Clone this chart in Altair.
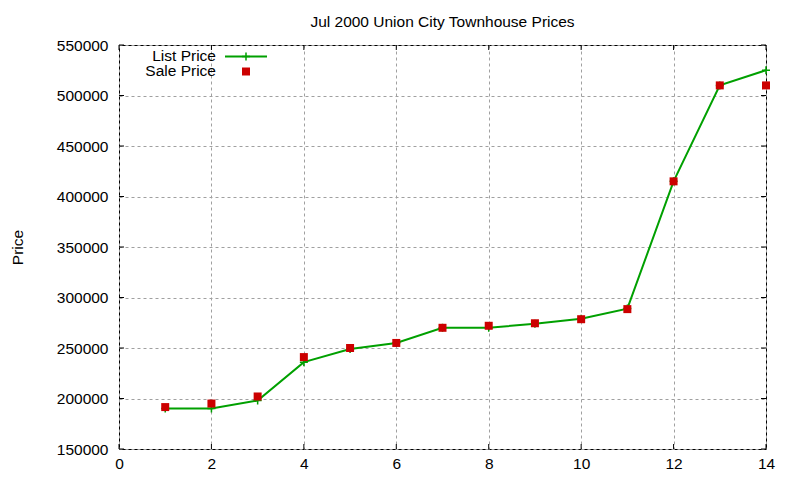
import altair as alt
import pandas as pd

# ---- data ----
idx = [1, 2, 3, 4, 5, 6, 7, 8, 9, 10, 11, 12, 13, 14]
list_price = [190000, 190000, 198000, 236000, 249000, 255000, 270000,
              270000, 274000, 279000, 289000, 415000, 510000, 525000]
sale_price = [191500, 195000, 202000, 241000, 250000, 255000, 270000,
              272000, 274500, 278500, 288500, 415000, 510000, 510000]
x_ticks = [0, 2, 4, 6, 8, 10, 12, 14]
y_ticks = [150000, 200000, 250000, 300000, 350000, 400000, 450000, 500000, 550000]
legend_labels = ["List Price", "Sale Price"]
title_text = "Jul 2000 Union City Townhouse Prices"

W, H = 647, 404
FONT = "Liberation Sans"
GREEN = "#00a000"
RED = "#cc0000"
TICK = 5
FS = 15.5

df = pd.DataFrame({"n": idx, "list": list_price, "sale": sale_price})
xt = pd.DataFrame({"v": x_ticks})
yt = pd.DataFrame({"v": y_ticks})

xs = alt.Scale(domain=[0, 14], nice=False, zero=False)
ys = alt.Scale(domain=[150000, 550000], nice=False, zero=False)

common = dict(grid=True, gridColor="#a0a0a0", gridDash=[3, 3], gridWidth=1,
              gridOpacity=1, tickSize=0, ticks=False, domain=False,
              labelFont=FONT, labelFontSize=FS, labelColor="black", format="d",
              labelFlush=False, labelOverlap=False)

xaxis = alt.Axis(values=x_ticks, title=None, labelPadding=7, **common)
yaxis = alt.Axis(values=y_ticks, title="Price", labelPadding=11,
                 titleAngle=-90, titleX=-102, titleY=H / 2,
                 titleAlign="center", titleBaseline="middle",
                 titleFont=FONT, titleFontSize=FS, titleFontWeight="normal",
                 titleColor="black", **common)

line = alt.Chart(df).mark_line(color=GREEN, strokeWidth=2).encode(
    x=alt.X("n:Q", scale=xs, axis=xaxis),
    y=alt.Y("list:Q", scale=ys, axis=yaxis),
)
plus = alt.Chart(df).mark_point(
    shape="M-1,0H1M0,-1V1", filled=False, color=GREEN, strokeWidth=1.5,
    size=64, opacity=1,
).encode(x=alt.X("n:Q", scale=xs), y=alt.Y("list:Q", scale=ys))
squares = alt.Chart(df).mark_square(color=RED, size=64, opacity=1).encode(
    x=alt.X("n:Q", scale=xs), y=alt.Y("sale:Q", scale=ys)
)

# inward ticks on all four sides
tick_l = alt.Chart(yt).mark_rule(color="black").encode(
    y=alt.Y("v:Q", scale=ys), x=alt.value(0), x2=alt.value(TICK))
tick_r = alt.Chart(yt).mark_rule(color="black").encode(
    y=alt.Y("v:Q", scale=ys), x=alt.value(W - TICK), x2=alt.value(W))
tick_b = alt.Chart(xt).mark_rule(color="black").encode(
    x=alt.X("v:Q", scale=xs), y=alt.value(H - TICK), y2=alt.value(H))
tick_t = alt.Chart(xt).mark_rule(color="black").encode(
    x=alt.X("v:Q", scale=xs), y=alt.value(0), y2=alt.value(TICK))

# key drawn inside the plot, label left of sample
leg = pd.DataFrame({"label": legend_labels})
leg_text1 = alt.Chart(leg.iloc[[0]]).mark_text(
    align="right", baseline="middle", font=FONT, fontSize=FS, color="black"
).encode(text="label:N", x=alt.value(97), y=alt.value(10.5))
leg_text2 = alt.Chart(leg.iloc[[1]]).mark_text(
    align="right", baseline="middle", font=FONT, fontSize=FS, color="black"
).encode(text="label:N", x=alt.value(97), y=alt.value(26))
leg_line = alt.Chart(leg.iloc[[0]]).mark_rule(color=GREEN, strokeWidth=2).encode(
    x=alt.value(106), x2=alt.value(148), y=alt.value(11.5))
leg_plus = alt.Chart(leg.iloc[[0]]).mark_point(
    shape="M-1,0H1M0,-1V1", filled=False, color=GREEN, strokeWidth=1.5,
    size=64, opacity=1).encode(x=alt.value(127), y=alt.value(11.5))
leg_sq = alt.Chart(leg.iloc[[1]]).mark_square(color=RED, size=64, opacity=1).encode(
    x=alt.value(127), y=alt.value(26.5))

chart = alt.layer(
    line, plus, squares, tick_l, tick_r, tick_b, tick_t,
    leg_text1, leg_text2, leg_line, leg_plus, leg_sq,
).properties(
    width=W, height=H,
    background="white",
    title=alt.TitleParams(title_text, anchor="middle", font=FONT, fontSize=FS,
                          fontWeight="normal", color="black", offset=8),
    autosize=alt.AutoSizeParams(type="none"),
    padding={"left": 111, "top": 37, "right": 26, "bottom": 22},
).configure_view(
    stroke="black", strokeWidth=1
)

chart.save("out.html", embed_options={"renderer": "svg", "actions": False})
